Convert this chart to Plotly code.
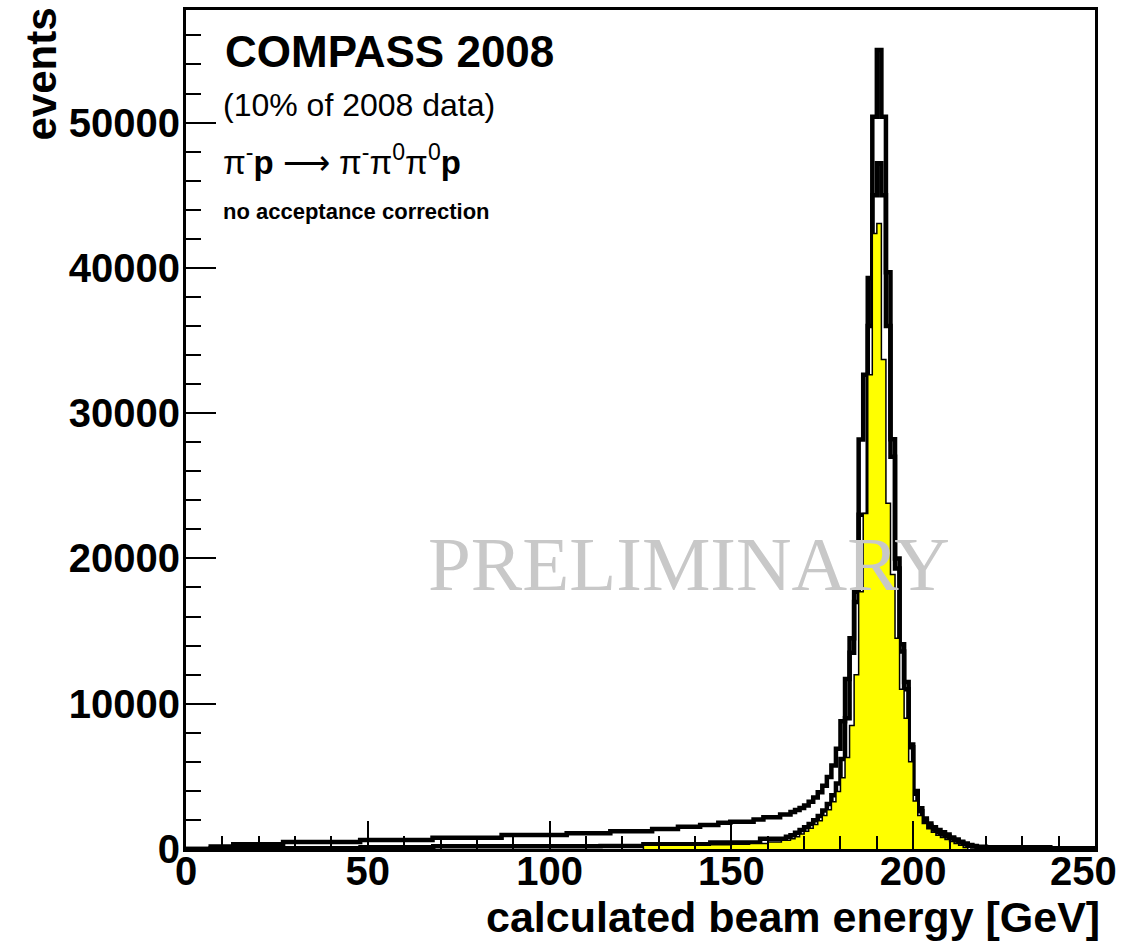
import numpy as np
import plotly.graph_objects as go

# ---------------- data ----------------
FINE = 1.25  # GeV, bin width around the peak

# outer black histogram (all events)
a_tail_edges = [0, 6.8, 13, 26.7, 47.9, 67.8, 86.8, 104.7, 116.7, 128.2, 135.3,
                141.4, 146.4, 149.7, 156.1, 158.8, 163.4]
a_fine_range = (166.25, 217.5)
a_end_edges = [220, 237.7, 241.3, 250]
a_counts = [0, 170, 330, 480, 620, 780, 960, 1080, 1230, 1380, 1530, 1660, 1800,
            1880, 2030, 2180, 2380,
            2550, 2680, 2820, 3000, 3250, 3550, 3900, 4350, 4950, 5750, 6900, 8800,
            11700, 14500, 17700, 28180, 32650, 39300, 50400, 55000, 50400, 39700,
            28200, 20000, 14100, 11500, 7200, 4000, 2800, 2100, 1750, 1500, 1300,
            1150, 1000, 800, 650, 500, 380, 280, 200,
            150, 120, 60, 15]

# middle black histogram
b_tail_edges = [0, 6.8, 48, 68, 114, 125.8, 144.2, 157.9, 165]
b_fine_range = (166.25, 217.5)
b_end_edges = [220, 250]
b_counts = [0, 60, 120, 190, 200, 330, 450, 700, 850,
            950, 1120, 1300, 1500, 1720, 1980, 2280, 2650, 3100, 3700, 4500, 6200,
            9000, 13500, 17000, 23000, 23000, 36000, 45000, 47200, 45000, 36000,
            27000, 19300, 13600, 11000, 7000, 3800, 2600, 1950, 1600, 1350, 1150,
            1000, 860, 720, 580, 440, 320, 230, 170,
            120, 60]

# yellow filled histogram
c_tail_edges = [125.8, 144.2, 150, 155, 160, 163.75]
c_fine_range = (166.25, 215)
c_end_edges = []
c_counts = [250, 300, 320, 380, 480, 600,
            700, 850, 1030, 1220, 1430, 1680, 1950, 2300, 2700, 3250, 3950, 4900,
            6300, 8500, 12000, 17700, 23100, 32650, 42360, 43050, 33700, 23800,
            18900, 14500, 11000, 9000, 6000, 3300, 2300, 1750, 1400, 1150, 950, 800,
            650, 520, 380, 250, 100]

x_ticks = [0, 50, 100, 150, 200, 250]
x_ticktext = ["0", "50", "100", "150", "200", "250"]
y_ticks = [0, 10000, 20000, 30000, 40000, 50000]


def make_edges(tail, fine_range, end):
    lo, hi = fine_range
    fine = list(np.round(np.arange(lo, hi + FINE / 2, FINE), 4))
    return list(tail) + fine + list(end)


def steps(edges, counts):
    assert len(edges) == len(counts) + 1, (len(edges), len(counts))
    xs = [edges[0]] + list(edges)
    ys = [0] + list(counts) + [0]
    return xs, ys


a_x, a_y = steps(make_edges(a_tail_edges, a_fine_range, a_end_edges), a_counts)
b_x, b_y = steps(make_edges(b_tail_edges, b_fine_range, b_end_edges), b_counts)
c_x, c_y = steps(make_edges(c_tail_edges, c_fine_range, c_end_edges), c_counts)

fig = go.Figure()
fig.add_trace(go.Scatter(x=a_x, y=a_y, mode="lines", line_shape="hv",
                         line=dict(color="black", width=4.5), hoverinfo="skip"))
fig.add_trace(go.Scatter(x=b_x, y=b_y, mode="lines", line_shape="hv",
                         line=dict(color="black", width=4.5), hoverinfo="skip"))
fig.add_trace(go.Scatter(x=c_x, y=c_y, mode="lines", line_shape="hv",
                         fill="tozeroy", fillcolor="#ffff00",
                         line=dict(color="black", width=1.5), hoverinfo="skip"))

SANS = "Liberation Sans, Arial, Helvetica, sans-serif"

# plot-area pixel geometry used to place the free texts
L, R, T, B = 186, 1095, 10, 849


def px(x):
    return (x - L) / (R - L)


def py(y):
    return (B - y) / (B - T)


# the last x label is kept inside the canvas (shifted left), as in the original
last_label = x_ticktext[-1]
axis_ticktext = x_ticktext[:-1] + [""]

annotations = [
    dict(text="<b>COMPASS 2008</b>", x=px(223), y=py(52), xanchor="left",
         yanchor="middle", font=dict(family=SANS, size=44, color="black")),
    dict(text="(10% of 2008 data)", x=px(221), y=py(105), xanchor="left",
         yanchor="middle", font=dict(family=SANS, size=32, color="black")),
    dict(text="π<sup>-</sup><b>p</b> ⟶ π<sup>-</sup>π<sup>0</sup>π<sup>0</sup><b>p</b>",
         x=px(221), y=py(160), xanchor="left", yanchor="middle",
         font=dict(family=SANS, size=33, color="black")),
    dict(text="<b>no acceptance correction</b>", x=px(221), y=py(211),
         xanchor="left", yanchor="middle",
         font=dict(family=SANS, size=22, color="black")),
    dict(text="PRELIMINARY", x=px(426), y=py(564), xanchor="left",
         yanchor="middle",
         font=dict(family="Liberation Serif, Times New Roman, serif", size=77,
                   color="#c8c8c8")),
    dict(text="<b>events</b>", x=px(41), y=py(6), xanchor="center",
         yanchor="top", textangle=-90,
         font=dict(family=SANS, size=42, color="black")),
    dict(text="<b>calculated beam energy [GeV]</b>", x=px(1102), y=py(917),
         xanchor="right", yanchor="middle",
         font=dict(family=SANS, size=43, color="black")),
    dict(text="<b>%s</b>" % last_label, x=px(1083), y=py(871), xanchor="center",
         yanchor="middle", font=dict(family=SANS, size=40, color="black")),
]
for an in annotations:
    an.update(xref="paper", yref="paper", showarrow=False)

fig.update_layout(
    width=1128, height=945,
    margin=dict(l=L, r=1128 - R, t=T, b=945 - B, pad=0, autoexpand=False),
    paper_bgcolor="white", plot_bgcolor="white",
    showlegend=False, hovermode=False,
    annotations=annotations,
)
fig.update_xaxes(
    range=[0, 250], tickvals=x_ticks, ticktext=axis_ticktext,
    automargin=False, ticklabelstandoff=-15, ticklabeloverflow="allow",
    ticks="inside", ticklen=28, tickwidth=2, tickcolor="black",
    showline=True, linecolor="black", linewidth=3, mirror=True,
    showgrid=False, zeroline=False,
    tickfont=dict(family=SANS, size=40, color="black", weight="bold"),
    minor=dict(ticks="inside", ticklen=13, tickwidth=2, tickcolor="black",
               dtick=10, tick0=0, showgrid=False),
)
fig.update_yaxes(
    range=[0, 57750], tickvals=y_ticks, ticktext=[str(v) for v in y_ticks],
    automargin=False, ticklabelstandoff=-5, ticklabeloverflow="allow",
    ticks="inside", ticklen=30, tickwidth=2, tickcolor="black",
    showline=True, linecolor="black", linewidth=3, mirror=True,
    showgrid=False, zeroline=False,
    tickfont=dict(family=SANS, size=40, color="black", weight="bold"),
    minor=dict(ticks="inside", ticklen=15, tickwidth=2, tickcolor="black",
               dtick=2000, tick0=0, showgrid=False),
)

fig.write_html("out.html", config={"displayModeBar": False})
